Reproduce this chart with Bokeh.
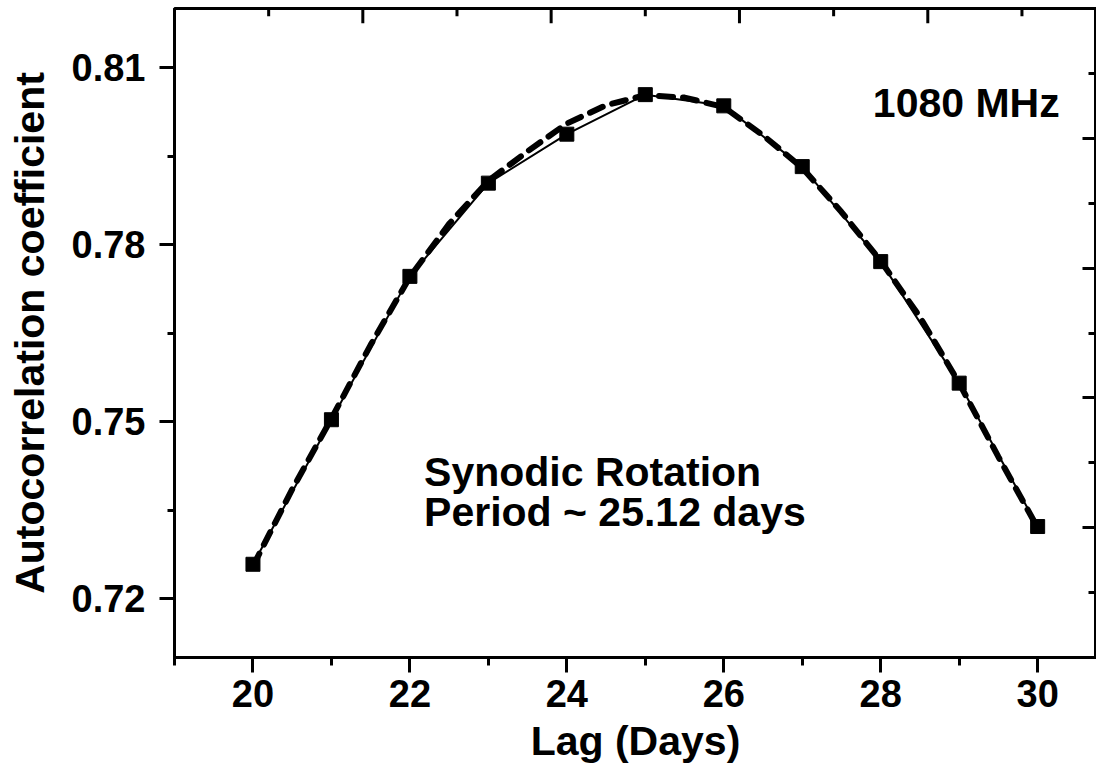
from bokeh.plotting import figure
from bokeh.models import Range1d, LinearAxis, SingleIntervalTicker, Label, NumeralTickFormatter
from bokeh.embed import file_html
from bokeh.resources import INLINE

# Data
lag_days = [20, 21, 22, 23, 24, 25, 26, 27, 28, 29, 30]
acf = [0.7258, 0.7503, 0.7746, 0.7904, 0.7987, 0.8054, 0.8035, 0.7932, 0.7771, 0.7565, 0.7322]

fit_lag = [20, 20.5, 21, 21.5, 22, 22.5, 23, 23.5, 24, 24.5, 25, 25.5, 26, 26.5, 27, 27.5, 28, 28.5, 29, 29.5, 30]
fit_acf = [0.7255, 0.7385, 0.7505, 0.7630, 0.7745, 0.7835, 0.7908, 0.7958, 0.8005, 0.8036, 0.8053,
           0.8049, 0.8033, 0.7985, 0.7930, 0.7855, 0.7772, 0.7677, 0.7565, 0.7440, 0.7320]

# Unlabelled tick positions along the top edge (in days)
top_major_ticks = [21.4, 23.8, 26.2, 28.6]
top_minor_ticks = [20.2, 22.6, 25.0, 27.4, 29.8]

x_title = "Lag (Days)"
y_title = "Autocorrelation coefficient"
freq_text = "1080 MHz"
note_line1 = "Synodic Rotation"
note_line2 = "Period ~ 25.12 days"

FONT = "Liberation Sans"
Y_MIN, Y_MAX = 0.71, 0.82
MAJOR_LEN, MINOR_LEN = 0.0025, 0.0013   # inward tick lengths (style)

p = figure(width=1096, height=766, output_backend="svg", toolbar_location=None, title=None,
           x_range=Range1d(19, 30.75), y_range=Range1d(Y_MIN, Y_MAX),
           min_border_left=174, min_border_right=0, min_border_top=8, min_border_bottom=0)
p.outline_line_color = "black"
p.outline_line_width = 3
p.grid.visible = False
p.background_fill_color = "white"
p.border_fill_color = "white"

def style_axis(ax, tick_in, tick_out, minor_in, minor_out):
    ax.axis_line_width = 3
    ax.axis_line_color = "black"
    ax.major_tick_line_width = 3
    ax.minor_tick_line_width = 3
    ax.major_tick_line_color = "black"
    ax.minor_tick_line_color = "black"
    ax.major_tick_in = tick_in
    ax.major_tick_out = tick_out
    ax.minor_tick_in = minor_in
    ax.minor_tick_out = minor_out
    ax.major_label_text_font = FONT
    ax.major_label_text_font_style = "bold"
    ax.major_label_text_font_size = "38px"
    ax.major_label_text_color = "black"
    ax.axis_label_text_font = FONT
    ax.axis_label_text_font_style = "bold"
    ax.axis_label_text_font_size = "41px"
    ax.axis_label_text_color = "black"

xa = p.xaxis[0]
xa.ticker = SingleIntervalTicker(interval=2, num_minor_ticks=2)
style_axis(xa, 0, 15, 0, 8)
xa.major_label_standoff = 7
xa.axis_label = x_title
xa.axis_label_standoff = 8

ya = p.yaxis[0]
ya.ticker = SingleIntervalTicker(interval=0.03, num_minor_ticks=2)
ya.formatter = NumeralTickFormatter(format="0.00")
style_axis(ya, 0, 15, 0, 7)
ya.major_label_standoff = 14
ya.axis_label = y_title
ya.axis_label_standoff = 16

p.extra_y_ranges = {"side": Range1d(0, 10)}

# Right axis: ticks only, pointing inwards
right = LinearAxis(y_range_name="side", ticker=SingleIntervalTicker(interval=2, num_minor_ticks=2))
style_axis(right, 14, 0, 8, 0)
right.major_label_text_font_size = "1px"
right.major_label_text_alpha = 0
right.major_label_standoff = 0
right.axis_line_color = None
p.add_layout(right, "right")

# Inward ticks along the top edge
p.segment(x0=top_major_ticks, y0=[Y_MAX] * len(top_major_ticks),
          x1=top_major_ticks, y1=[Y_MAX - MAJOR_LEN] * len(top_major_ticks),
          line_width=3, color="black")
p.segment(x0=top_minor_ticks, y0=[Y_MAX] * len(top_minor_ticks),
          x1=top_minor_ticks, y1=[Y_MAX - MINOR_LEN] * len(top_minor_ticks),
          line_width=3, color="black")

# Series
p.line(lag_days, acf, line_width=2, color="black")
p.line(fit_lag, fit_acf, line_width=6, line_dash="14 10", color="black", line_cap="round")
p.scatter(lag_days, acf, marker="square", size=14, color="black")

# Annotations
for txt, x, y in [(freq_text, 27.9, 0.8039), (note_line1, 22.18, 0.7415), (note_line2, 22.18, 0.7347)]:
    p.add_layout(Label(x=x, y=y, text=txt, text_font=FONT, text_font_style="bold",
                       text_font_size="41px", text_color="black", text_baseline="alphabetic"))

open("out.html", "w").write(file_html(p, INLINE))
